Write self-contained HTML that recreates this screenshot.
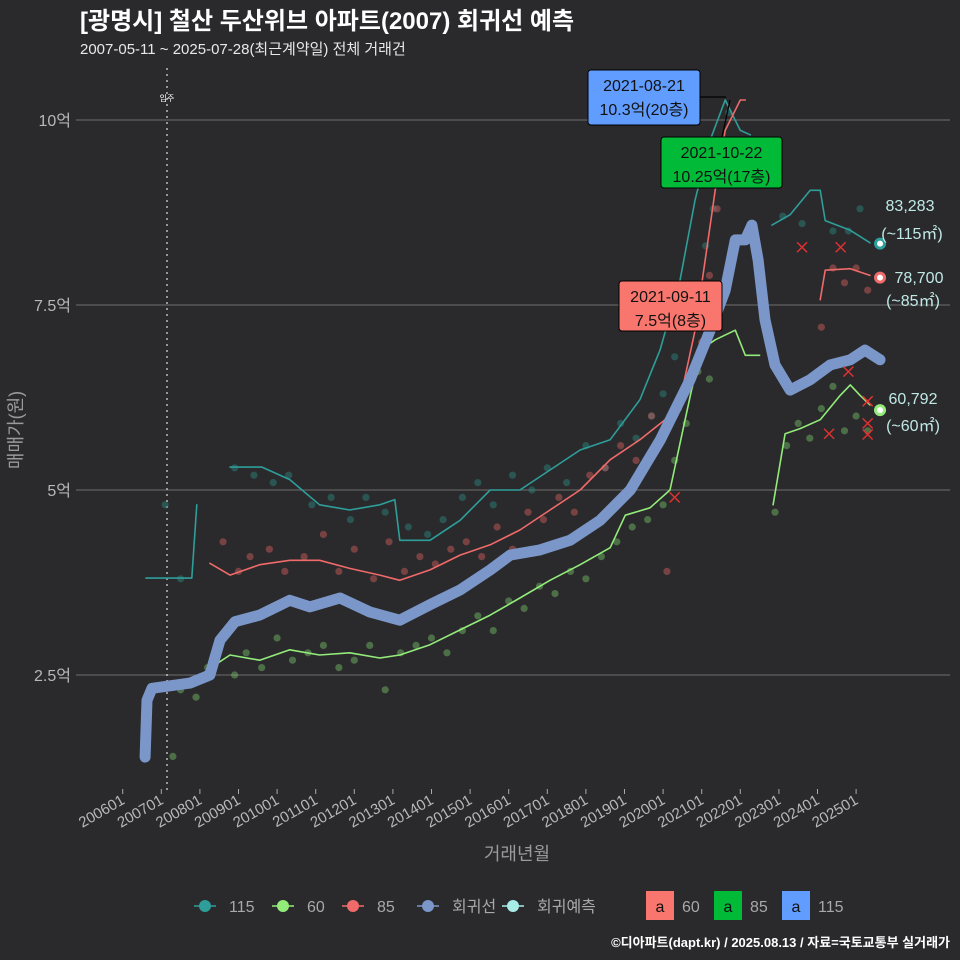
<!DOCTYPE html>
<html><head><meta charset="utf-8">
<style>
html,body{margin:0;padding:0;background:#2a2a2c;}
svg{display:block;font-family:"Liberation Sans","Noto Sans CJK KR",sans-serif;}
</style></head>
<body>
<svg id="chart" width="960" height="960" viewBox="0 0 960 960">
<rect width="960" height="960" fill="#2a2a2c"/>
<text x="80" y="29" fill="#ffffff" font-size="24" font-weight="bold">[광명시] 철산 두산위브 아파트(2007) 회귀선 예측</text>
<text x="80" y="54" fill="#e8e8e8" font-size="15">2007-05-11 ~ 2025-07-28(최근계약일) 전체 거래건</text>
<g id="grid"></g>
<g id="marks"></g>
<g id="axes"></g>
<text transform="translate(22,430) rotate(-90)" text-anchor="middle" fill="#9a9a9a" font-size="18">매매가(원)</text>
<text x="517" y="860" text-anchor="middle" fill="#9a9a9a" font-size="18">거래년월</text>
<g id="legend"></g>
<text x="950" y="947" text-anchor="end" fill="#ffffff" font-size="13" font-weight="bold">©디아파트(dapt.kr) / 2025.08.13 / 자료=국토교통부 실거래가</text>
</svg>
<script>
// ---- data ----
const yTicks = [2.5, 5, 7.5, 10];
const yTickLabels = ["2.5억", "5억", "7.5억", "10억"];
const xTickYears = [2006,2007,2008,2009,2010,2011,2012,2013,2014,2015,2016,2017,2018,2019,2020,2021,2022,2023,2024,2025];
const xTickLabels = ["200601","200701","200801","200901","201001","201101","201201","201301","201401","201501","201601","201701","201801","201901","202001","202101","202201","202301","202401","202501"];
const regT = [2006.58,2006.63,2006.76,2007.74,2008.26,2008.52,2008.91,2009.55,2010.33,2010.85,2011.63,2012.41,2013.18,2013.96,2014.74,2015.52,2016.04,2016.81,2017.59,2018.37,2019.15,2019.93,2020.7,2021.22,2021.61,2021.87,2022.13,2022.3,2022.46,2022.64,2022.9,2023.29,2023.81,2024.33,2024.85,2025.23,2025.62];
const regV = [1.39,2.16,2.32,2.39,2.5,2.97,3.22,3.31,3.51,3.42,3.54,3.35,3.24,3.45,3.65,3.92,4.12,4.19,4.32,4.59,5.0,5.68,6.49,7.16,7.7,8.38,8.38,8.58,8.11,7.3,6.69,6.35,6.49,6.69,6.76,6.89,6.76];
const t115a = [2006.6,2007.79,2007.92];
const v115a = [3.81,3.81,4.8];
const t115b = [2008.78,2009.61,2010.33,2011.1,2011.88,2012.66,2013.05,2013.18,2013.96,2014.74,2015.52,2016.29,2017.07,2017.85,2018.63,2019.4,2019.92,2020.44,2020.83,2021.22,2021.61,2022.0,2022.26];
const v115b = [5.31,5.31,5.14,4.8,4.73,4.8,4.87,4.32,4.32,4.59,5.0,5.0,5.27,5.54,5.68,6.22,6.89,7.84,8.92,9.73,10.27,9.86,9.8];
const t115c = [2022.82,2023.29,2023.81,2024.07,2024.2,2024.85,2025.36];
const v115c = [8.58,8.72,9.05,9.05,8.64,8.51,8.34];
const t85a = [2008.26,2008.78,2009.55,2010.33,2011.1,2011.88,2012.66,2013.18,2013.96,2014.74,2015.52,2016.29,2017.07,2017.85,2018.63,2019.4,2020.05,2020.44,2020.83,2021.09,2021.35,2021.61,2022.0,2022.13];
const v85a = [4.01,3.85,3.99,4.05,4.05,3.94,3.85,3.78,3.92,4.12,4.26,4.46,4.73,5.0,5.41,5.68,5.95,6.22,7.16,8.11,9.05,9.86,10.27,10.27];
const t85b = [2024.07,2024.2,2024.85,2025.36];
const v85b = [7.57,7.97,7.99,7.9];
const t60a = [2007.23,2007.74,2008.26,2008.78,2009.55,2010.33,2011.1,2011.88,2012.66,2013.18,2013.96,2014.74,2015.52,2016.29,2017.07,2017.85,2018.63,2019.02,2019.66,2020.18,2020.57,2020.96,2021.35,2021.87,2022.13,2022.5];
const v60a = [2.3,2.39,2.59,2.77,2.7,2.84,2.77,2.8,2.73,2.77,2.91,3.11,3.31,3.54,3.78,3.99,4.22,4.66,4.76,5.0,5.95,6.89,7.03,7.16,6.82,6.82];
const t60b = [2022.85,2023.16,2023.55,2024.07,2024.59,2024.85,2025.1,2025.36];
const v60b = [4.8,5.76,5.83,5.95,6.28,6.42,6.28,6.15];
const pts115T = [2007.1,2007.5,2008.9,2009.4,2009.9,2010.3,2010.9,2011.4,2011.9,2012.3,2012.8,2013.4,2013.9,2014.3,2014.8,2015.2,2015.6,2016.1,2016.6,2017.0,2017.5,2018.0,2018.5,2018.9,2019.3,2019.7,2020.0,2020.3,2020.6,2020.9,2021.1,2021.3,2021.5,2021.7,2023.1,2023.6,2024.4,2024.8,2025.1];
const pts115V = [4.8,3.8,5.3,5.2,5.1,5.2,4.8,4.9,4.6,4.9,4.7,4.5,4.4,4.6,4.9,5.1,4.8,5.2,5.0,5.3,5.1,5.6,5.3,5.9,5.7,6.0,6.3,6.8,7.2,7.6,8.3,8.8,9.6,10.1,8.7,8.6,8.5,8.5,8.8];
const pts85T = [2008.6,2009.0,2009.3,2009.8,2010.2,2010.7,2011.2,2011.6,2012.0,2012.5,2012.9,2013.3,2013.7,2014.1,2014.5,2014.9,2015.3,2015.7,2016.1,2016.5,2016.9,2017.3,2017.7,2018.1,2018.5,2018.9,2019.3,2019.7,2020.1,2020.4,2020.7,2021.0,2021.2,2021.4,2024.1,2024.4,2024.7,2025.0,2025.3];
const pts85V = [4.3,3.9,4.1,4.2,3.9,4.1,4.4,3.9,4.2,3.8,4.3,3.9,4.1,4.0,4.2,4.3,4.1,4.5,4.2,4.7,4.6,4.9,4.7,5.2,5.3,5.6,5.4,6.0,3.9,6.1,6.4,7.0,7.9,8.8,7.2,8.0,7.8,8.0,7.7];
const pts60T = [2007.3,2007.5,2007.9,2008.2,2008.5,2008.9,2009.2,2009.6,2010.0,2010.4,2010.8,2011.2,2011.6,2012.0,2012.4,2012.8,2013.2,2013.6,2014.0,2014.4,2014.8,2015.2,2015.6,2016.0,2016.4,2016.8,2017.2,2017.6,2018.0,2018.4,2018.8,2019.2,2019.6,2020.0,2020.3,2020.6,2020.9,2021.2,2021.5,2022.9,2023.2,2023.5,2023.8,2024.1,2024.4,2024.7,2025.0,2025.3];
const pts60V = [1.4,2.3,2.2,2.6,2.9,2.5,2.8,2.6,3.0,2.7,2.8,2.9,2.6,2.7,2.9,2.3,2.8,2.9,3.0,2.8,3.1,3.3,3.1,3.5,3.4,3.7,3.6,3.9,3.8,4.1,4.3,4.5,4.6,4.8,5.4,5.9,6.6,6.5,7.5,4.7,5.6,5.9,5.7,6.1,6.4,5.8,6.0,5.8];
const xMarkT = [2023.6,2024.6,2024.3,2020.3,2024.8,2025.3,2025.3,2025.3];
const xMarkV = [8.28,8.28,5.76,4.9,6.6,6.2,5.9,5.75];

// ---- scales ----
const X0 = 122.7, PXY = 38.6;
function sx(t){ return X0 + (t - 2006) * PXY; }
function sy(v){ return 675 - (v - 2.5) * 74; }
const NS = "http://www.w3.org/2000/svg";
function mk(tag, attrs, parent){
  const e = document.createElementNS(NS, tag);
  for (const k in attrs) e.setAttribute(k, attrs[k]);
  parent.appendChild(e);
  return e;
}
const grid = document.getElementById('grid');
const marks = document.getElementById('marks');
const axes = document.getElementById('axes');
const legend = document.getElementById('legend');

yTicks.forEach((v, i) => {
  const l = mk('line', {x1: 76, x2: 950, y1: sy(v), y2: sy(v), stroke: '#6e6e6e', 'stroke-width': 1}, grid);
  
  
  const t = mk('text', {x: 71, y: sy(v) + 6, 'text-anchor': 'end', fill: '#b8b8b8', 'font-size': 16}, axes);
  t.textContent = yTickLabels[i];
  
  
});
xTickYears.forEach((yr, i) => {
  const x = sx(yr);
  const tk = mk('line', {x1: x, x2: x, y1: 789, y2: 794, stroke: '#aaa', 'stroke-width': 1}, axes);
  
  
  const t = mk('text', {transform: `translate(${x + 3},${803}) rotate(-30)`, 'text-anchor': 'end', fill: '#b8b8b8', 'font-size': 15}, axes);
  t.textContent = xTickLabels[i];
  
  
});
const mv = mk('line', {x1: 167, x2: 167, y1: 68, y2: 790, stroke: '#cfcfcf', 'stroke-width': 1.3, 'stroke-dasharray': '2 4'}, grid);


const mvt = mk('text', {x: 167, y: 101, 'text-anchor': 'middle', fill: '#fff', 'font-size': 8}, grid);
mvt.textContent = '입주';



function pts(T, V){ return T.map((t, i) => sx(t).toFixed(1) + ',' + sy(V[i]).toFixed(1)).join(' '); }
function scatter(T, V, col, name){
  T.forEach((t, i) => {
    const c = mk('circle', {cx: sx(t), cy: sy(V[i]), r: 3.6, fill: col, 'fill-opacity': 0.45}, marks);
    
    
  });
}
function line(T, V, col, w, name){
  const p = mk('polyline', {points: pts(T, V), fill: 'none', stroke: col, 'stroke-width': w, 'stroke-linejoin': 'round', 'stroke-linecap': 'round'}, marks);
  
  
}
const C115 = '#2e9e9a', C85 = '#f06a6a', C60 = '#93ec7a', CREG = '#7b97c9';
scatter(pts115T, pts115V, '#2a8a80', 'point-115');
scatter(pts85T, pts85V, '#d65f5f', 'point-85');
scatter(pts60T, pts60V, '#78c468', 'point-60');
line(t115a, v115a, C115, 1.6, 'line-115');
line(t115b, v115b, C115, 1.6, 'line-115');
line(t115c, v115c, C115, 1.6, 'line-115');
line(t85a, v85a, C85, 1.6, 'line-85');
line(t85b, v85b, C85, 1.6, 'line-85');
line(t60a, v60a, C60, 1.6, 'line-60');
line(t60b, v60b, C60, 1.6, 'line-60');
line(regT, regV, CREG, 11, 'regression-line');
xMarkT.forEach((t, i) => {
  const x = sx(t), y = sy(xMarkV[i]);
  const p = mk('path', {d: `M${x-5},${y-5}L${x+5},${y+5}M${x-5},${y+5}L${x+5},${y-5}`, stroke: '#e03030', 'stroke-width': 1.5}, marks);
  
  
});

// end markers + labels: [t, v, color, price, area, priceX, priceY, areaX, areaY]
const ends = [
  [2025.62, 8.33, C115, '83,283', '(~115㎡)', 910, 211, 912, 239],
  [2025.62, 7.87, C85, '78,700', '(~85㎡)', 919, 283, 913, 306],
  [2025.62, 6.08, C60, '60,792', '(~60㎡)', 913, 404, 913, 431]
];
ends.forEach(e => {
  const x = sx(e[0]), y = sy(e[1]);
  const c = mk('circle', {cx: x, cy: y, r: 6, fill: e[2]}, marks);
  
  
  const c2 = mk('circle', {cx: x, cy: y, r: 3, fill: '#fff'}, marks);
  
  
  const t1 = mk('text', {x: e[5], y: e[6], 'text-anchor': 'middle', fill: '#bfe9e6', 'font-size': 16}, marks);
  t1.textContent = e[3];
  
  
  const t2 = mk('text', {x: e[7], y: e[8], 'text-anchor': 'middle', fill: '#bfe9e6', 'font-size': 16}, marks);
  t2.textContent = e[4];
  
  
});

// annotation boxes
const svg = document.getElementById('chart');
const boxes = [
  [588, 70, 112, 55, '#619cff', '2021-08-21', '10.3억(20층)', 'max-115-annotation', 700, 97, 726, 97],
  [661, 137, 121, 51, '#00ba38', '2021-10-22', '10.25억(17층)', 'max-85-annotation', 722, 137, 730, 100],
  [619, 281, 103, 50, '#f8766d', '2021-09-11', '7.5억(8층)', 'max-60-annotation', 700, 281, 700, 281]
];
boxes.forEach(b => {
  const ln = mk('line', {x1: b[8], y1: b[9], x2: b[10], y2: b[11], stroke: '#000', 'stroke-width': 1.2}, svg);
  
  
  const r = mk('rect', {x: b[0], y: b[1], width: b[2], height: b[3], rx: 3, fill: b[4], stroke: '#000', 'stroke-width': 1}, svg);
  
  
  const t1 = mk('text', {x: b[0] + b[2] / 2, y: b[1] + 21, 'text-anchor': 'middle', fill: '#111', 'font-size': 16}, svg);
  t1.textContent = b[5];
  
  
  const t2 = mk('text', {x: b[0] + b[2] / 2, y: b[1] + 45, 'text-anchor': 'middle', fill: '#111', 'font-size': 16}, svg);
  t2.textContent = b[6];
  
  
});
// legend
const items = [[205, '#2e9e9a', '115'], [283, '#93ec7a', '60'], [353, '#f06a6a', '85'], [428, '#7b97c9', '회귀선'], [513, '#a8ece6', '회귀예측']];
items.forEach(it => {
  const l = mk('line', {x1: it[0] - 11, x2: it[0] + 11, y1: 906, y2: 906, stroke: it[1], 'stroke-width': 1.5}, legend);
  
  
  const c = mk('circle', {cx: it[0], cy: 906, r: 6, fill: it[1]}, legend);
  
  
  const t = mk('text', {x: it[0] + 24, y: 912, fill: '#a8a8a8', 'font-size': 16}, legend);
  t.textContent = it[2];
  
  
});
const items2 = [[646, '#f8766d', '60'], [714, '#00ba38', '85'], [782, '#619cff', '115']];
items2.forEach(it => {
  const r = mk('rect', {x: it[0], y: 891, width: 28, height: 29, fill: it[1]}, legend);
  
  
  const a = mk('text', {x: it[0] + 14, y: 912, 'text-anchor': 'middle', fill: '#111', 'font-size': 16}, legend);
  a.textContent = 'a';
  
  
  const t = mk('text', {x: it[0] + 36, y: 912, fill: '#a8a8a8', 'font-size': 16}, legend);
  t.textContent = it[2];
  
  
});
</script>
</body></html>
